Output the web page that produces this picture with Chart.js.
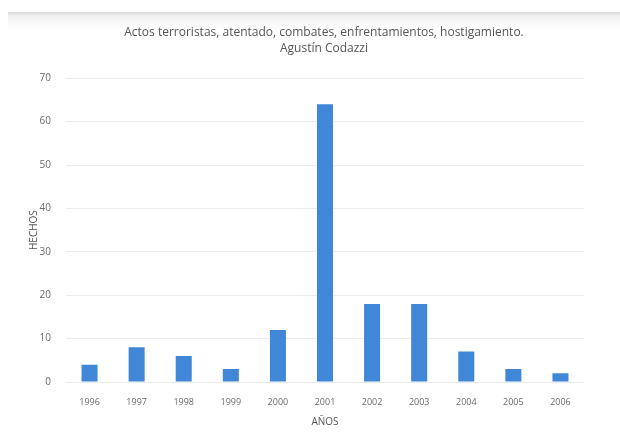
<!DOCTYPE html>
<html lang="es">
<head>
  <meta charset="UTF-8">
  <title>Actos terroristas - Agustín Codazzi</title>
  <style>
    body {
      margin: 0;
      background: #fff;
    }
    #wrap {
      position: relative;
      width: 620px;
      height: 432px;
    }
    #panel {
      position: absolute;
      left: 8px;
      top: 12px;
      right: 0;
      height: 18px;
      background: linear-gradient(to bottom, #d6d6d6 0px, #ededed 3px, #f7f7f7 9px, #ffffff 18px);
    }
    canvas {
      position: absolute;
      left: 0;
      top: 0;
    }
  </style>
  <script src="https://cdn.jsdelivr.net/npm/chart.js"></script>
</head>
<body>
  <div id="wrap">
    <div id="panel"></div>
    <canvas id="hechosChart" width="620" height="432"></canvas>
  </div>

  <script>
    const years = ['1996', '1997', '1998', '1999', '2000', '2001', '2002', '2003', '2004', '2005', '2006'];
    const hechos = [4, 8, 6, 3, 12, 64, 18, 18, 7, 3, 2];
    const yTicks = [0, 10, 20, 30, 40, 50, 60, 70];

    const textColor = '#6b6b6b';
    const fontFamily = "'Open Sans', 'Liberation Sans', sans-serif";

    const ctx = document.getElementById('hechosChart').getContext('2d');
    new Chart(ctx, {
      type: 'bar',
      data: {
        labels: years,
        datasets: [{
          label: 'Hechos',
          data: hechos,
          backgroundColor: '#4087d8',
          barPercentage: 0.34,
          categoryPercentage: 1
        }]
      },
      options: {
        responsive: false,
        animation: false,
        layout: { padding: { top: 15, left: 28, right: 0, bottom: 0 } },
        plugins: {
          legend: { display: false },
          tooltip: { enabled: false },
          title: {
            display: true,
            text: ['Actos terroristas, atentado, combates, enfrentamientos, hostigamiento.', 'Agustín Codazzi'],
            color: '#555',
            font: { family: fontFamily, size: 12, weight: 'normal', lineHeight: 1.3 },
            padding: { top: 10, bottom: 22 }
          }
        },
        scales: {
          x: {
            grid: { display: false },
            border: { display: false },
            afterFit: axis => { axis.height = 50; },
            ticks: { color: textColor, font: { family: fontFamily, size: 9 }, padding: 7 },
            title: {
              display: true,
              text: 'AÑOS',
              color: '#555',
              font: { family: fontFamily, size: 10 }
            }
          },
          y: {
            min: 0,
            max: 70,
            afterBuildTicks: axis => { axis.ticks = yTicks.map(v => ({ value: v })); },
            afterFit: axis => { axis.width = 38; },
            grid: { color: '#ececec', drawTicks: false },
            border: { display: false },
            ticks: { color: textColor, font: { family: fontFamily, size: 10 }, padding: 15 },
            title: {
              display: true,
              text: 'HECHOS',
              color: '#555',
              font: { family: fontFamily, size: 10 },
              padding: { top: 0, bottom: 0 }
            }
          },
          yRight: {
            position: 'right',
            display: true,
            afterFit: axis => { axis.width = 36; },
            grid: { display: false },
            border: { display: false },
            ticks: { display: false }
          }
        }
      }
    });
  </script>
</body>
</html>
